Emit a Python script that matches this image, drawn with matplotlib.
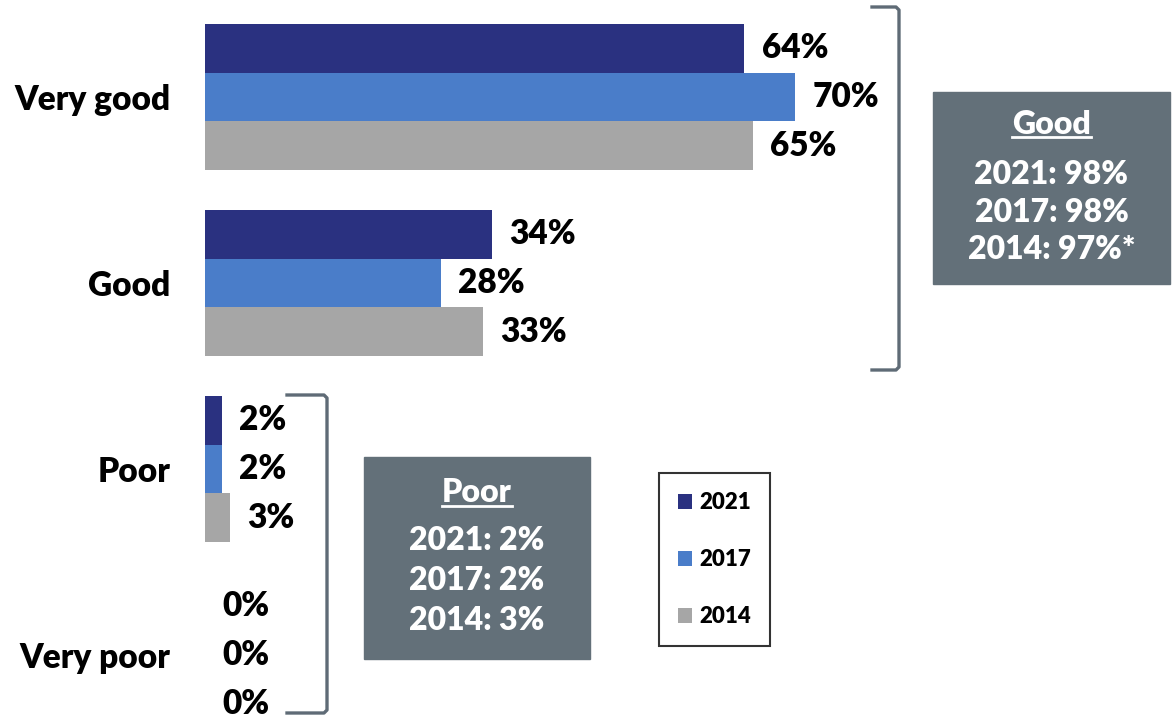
import numpy as np
import matplotlib
matplotlib.use("Agg")
import matplotlib.pyplot as plt
from matplotlib.patches import Rectangle, Patch
from matplotlib.lines import Line2D

plt.rcParams['font.family'] = ['Lato', 'DejaVu Sans']
plt.rcParams['font.weight'] = 'heavy'

# data
categories = ["Very good", "Good", "Poor", "Very poor"]
years = ["2021", "2017", "2014"]
vals_2021 = [64, 34, 2, 0]
vals_2017 = [70, 28, 2, 0]
vals_2014 = [65, 33, 3, 0]
colors = ["#2A3180", "#4A7DC9", "#A6A6A6"]

good_box = ["2021: 98%", "2017: 98%", "2014: 97%*"]
poor_box = ["2021: 2%", "2017: 2%", "2014: 3%"]

W, H = 1173, 724
fig = plt.figure(figsize=(W / 100, H / 100), dpi=100)
FW = "heavy"


def px(x, y):
    return (x / W, 1 - y / H)


# axes from x=205px to right edge, scale ~8.43 px per %
ax = fig.add_axes([205 / W, 0, 1 - 205 / W, 1])
ax.set_xlim(0, (W - 205) / (590 / 70))
ax.set_ylim(3.371, -0.5215)
for s in ax.spines.values():
    s.set_visible(False)
ax.set_xticks([])

y = np.arange(len(categories))
bh = 0.263
series = [vals_2021, vals_2017, vals_2014]
for i, (vals, c, yr) in enumerate(zip(series, colors, years)):
    pos = y + (i - 1) * bh
    ax.barh(pos, vals, height=bh, color=c, label=yr)
    for p, v in zip(pos, vals):
        ax.annotate(f"{v}%", (v, p), xytext=(12.5, 0), textcoords="offset points",
                    va="center", ha="left", fontsize=24, fontweight=FW, color="black")

ax.set_yticks(y)
ax.set_yticklabels(categories, fontsize=24, fontweight=FW)
ax.tick_params(axis="y", length=0, pad=25)

# legend
handles = [Patch(facecolor=c, label=yr) for c, yr in zip(colors, years)]
leg = fig.legend(handles=handles, loc="upper left", bbox_to_anchor=px(659, 473),
                 frameon=True, fancybox=False, edgecolor="black",
                 prop={"size": 16, "weight": FW},
                 handlelength=0.65, handleheight=0.65, handletextpad=0.3,
                 labelspacing=1.62, borderpad=0.85, borderaxespad=0)
leg.get_frame().set_linewidth(1.5)

# brackets
bcol = "#5F6B76"


def bracket(x0, x1, y0, y1):
    xs = [x0, x1 - 3, x1, x1, x1 - 3, x0]
    ys = [y0, y0, y0 + 3, y1 - 3, y1, y1]
    pts = [px(a, b) for a, b in zip(xs, ys)]
    fig.add_artist(Line2D([p[0] for p in pts], [p[1] for p in pts],
                          transform=fig.transFigure, color=bcol, lw=2.4,
                          solid_joinstyle="round"))


bracket(872, 899, 7, 370)
bracket(287, 327, 395, 713)

# summary boxes
box_col = "#637079"


def summary(x0, y0, x1, y1, title, title_y, lines, line_y):
    (fx0, fy1), (fx1, fy0) = px(x0, y0), px(x1, y1)
    fig.add_artist(Rectangle((fx0, fy0), fx1 - fx0, fy1 - fy0,
                             transform=fig.transFigure, color=box_col))
    cx = (x0 + x1) / 2
    t = fig.text(*px(cx, title_y), title, color="white", fontsize=23,
                 fontweight=FW, ha="center", va="center")
    for s, yy in zip(lines, line_y):
        fig.text(*px(cx, yy), s, color="white", fontsize=23,
                 fontweight=FW, ha="center", va="center")
    return t


t1 = summary(933, 92, 1170, 284, "Good", 124, good_box, [175, 212, 250])
t2 = summary(364, 457, 590, 659, "Poor", 493, poor_box, [541, 581, 621])

fig.canvas.draw()
r = fig.canvas.get_renderer()
for t in (t1, t2):
    bb = t.get_window_extent(r).transformed(fig.transFigure.inverted())
    yl = bb.y0 + 2 / H
    fig.add_artist(Line2D([bb.x0, bb.x1], [yl, yl], transform=fig.transFigure,
                          color="white", lw=2))

fig.savefig("out.png", dpi=100)
